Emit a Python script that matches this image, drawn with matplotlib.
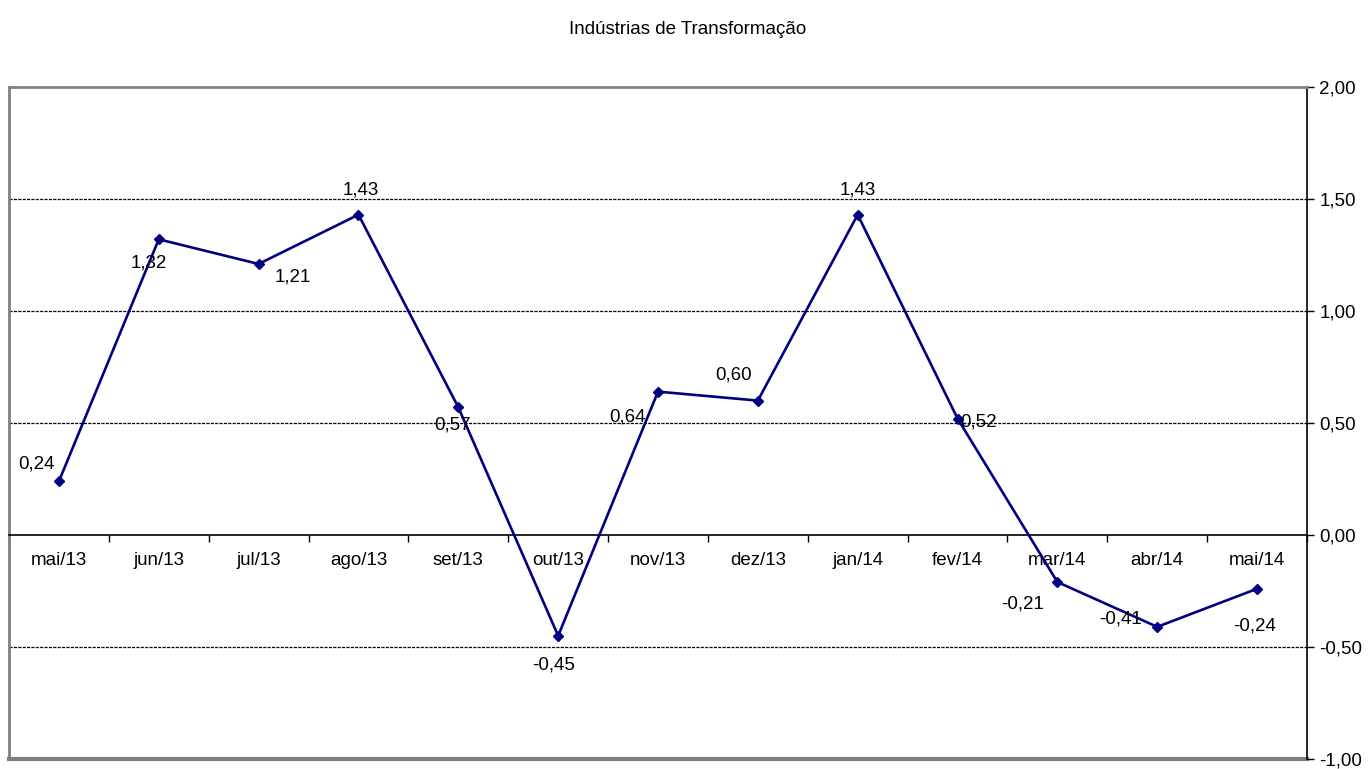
import matplotlib.pyplot as plt
from matplotlib.ticker import FixedLocator, FuncFormatter

plt.rcParams['font.family'] = ['Liberation Sans', 'DejaVu Sans']

# Dados
meses = ["mai/13", "jun/13", "jul/13", "ago/13", "set/13", "out/13", "nov/13",
         "dez/13", "jan/14", "fev/14", "mar/14", "abr/14", "mai/14"]
valores = [0.24, 1.32, 1.21, 1.43, 0.57, -0.45, 0.64, 0.60, 1.43, 0.52, -0.21, -0.41, -0.24]

# deslocamento dos rótulos (pixels)
desloc = [(-22, 17), (-10, -24), (34, -13), (2, 25), (-6, -18), (-5, -29), (-31, -25),
          (-24, 26), (0, 25), (21, -3), (-35, -22), (-37, 8), (-3, -37)]

fs = 13.5

fig = plt.figure(figsize=(13.69, 7.69), dpi=100)
ax = fig.add_axes([9 / 1369, 10 / 769, 1298 / 1369, 672 / 769])

x = list(range(len(meses)))
ax.plot(x, valores, color="#000080", linewidth=1.9, marker="D", markersize=5.5, zorder=3)

for xi, v, (dx, dy) in zip(x, valores, desloc):
    ax.annotate(f"{v:.2f}".replace(".", ","), (xi, v), xytext=(dx, dy),
                textcoords="offset pixels", ha="center", va="center", fontsize=fs)

ax.set_xlim(-0.5, len(meses) - 0.5)
ax.set_ylim(-1.0, 2.0)

# grade
for g in [1.5, 1.0, 0.5, -0.5]:
    ax.axhline(g, color="black", linewidth=0.9, linestyle=(0, (2.5, 1)), zorder=1)

# eixo y à direita
ax.yaxis.tick_right()
ax.set_yticks([-1.0, -0.5, 0.0, 0.5, 1.0, 1.5, 2.0])
ax.yaxis.set_major_formatter(FuncFormatter(lambda v, p: f"{v:.2f}".replace(".", ",")))
ax.tick_params(axis="y", direction="out", length=5, width=1, labelsize=fs, pad=4)
ax.spines["right"].set_color("black")
ax.spines["right"].set_linewidth(1.2)

# eixo x na linha do zero
ax.spines["bottom"].set_position(("data", 0))
ax.spines["bottom"].set_color("black")
ax.spines["bottom"].set_linewidth(1.2)
ax.xaxis.set_major_locator(FixedLocator([i - 0.5 for i in range(len(meses) + 1)]))
ax.xaxis.set_major_formatter(FuncFormatter(lambda v, p: ""))
ax.xaxis.set_minor_locator(FixedLocator(x))
ax.set_xticklabels(meses, minor=True)
ax.tick_params(axis="x", which="major", direction="out", length=5, width=1)
ax.tick_params(axis="x", which="minor", length=0, labelsize=fs, pad=12)

# moldura cinza
for s in ["top", "left"]:
    ax.spines[s].set_color("#808080")
    ax.spines[s].set_linewidth(2)
ax.axhline(-1.0, color="#808080", linewidth=3, clip_on=False, zorder=0)

fig.text(688 / 1369, 1 - 30 / 769, "Indústrias de Transformação", ha="center", va="center", fontsize=fs)

fig.savefig("out.png", dpi=100)
